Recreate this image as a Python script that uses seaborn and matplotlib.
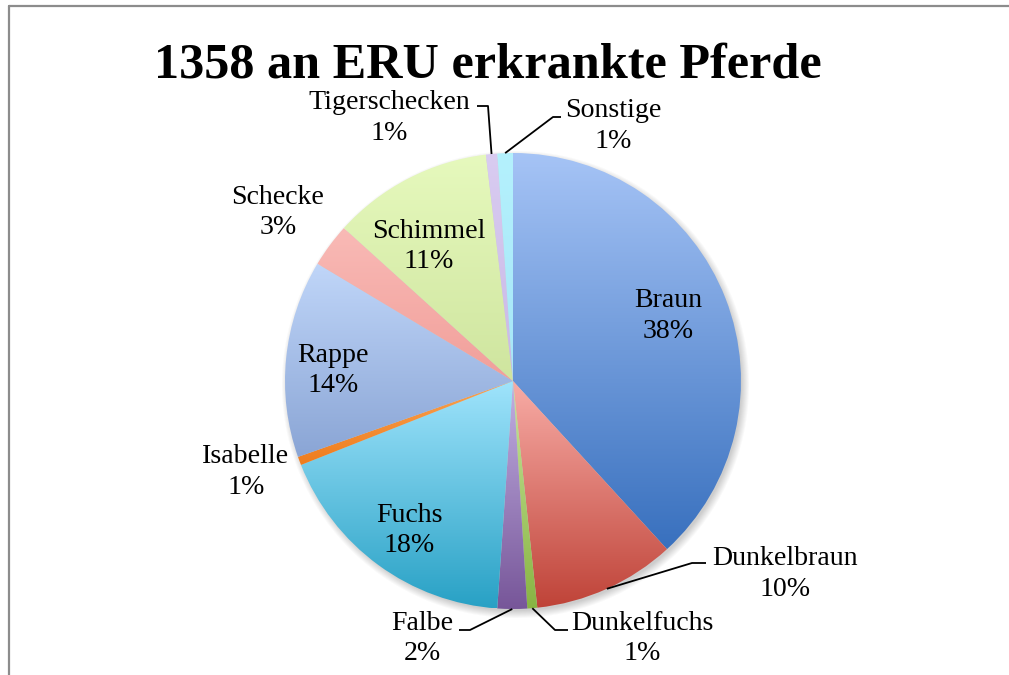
import numpy as np
import matplotlib
matplotlib.use("Agg")
import matplotlib.pyplot as plt
from matplotlib.lines import Line2D
import seaborn as sns

# ---------------- data ----------------
title = "1358 an ERU erkrankte Pferde"
categories = ["Braun", "Dunkelbraun", "Dunkelfuchs", "Falbe", "Fuchs", "Isabelle",
              "Rappe", "Schecke", "Schimmel", "Tigerschecken", "Sonstige"]
shares = [38.2, 10.1, 0.7, 2.1, 17.9, 0.6, 14.0, 3.1, 11.4, 0.8, 1.1]
pct_labels = [f"{round(v)}%" for v in shares]

top_colors = ["#a6c4f6", "#f8aca6", "#c8e59c", "#c2b0e2", "#a0e4fc", "#f9a352",
              "#c0d6f9", "#f9bab6", "#e6f9bd", "#d9ccf1", "#b4f1fd"]
bottom_colors = ["#3870be", "#bf4338", "#88b443", "#775699", "#28a1c5", "#ef7c1d",
                 "#8aa5d5", "#f19f9a", "#cfe59f", "#c9b8e6", "#a6e6f7"]

# label placement (image px: centre x, baseline y of name line)
label_pos = {
    "Braun": (668, 307), "Dunkelbraun": (785, 565), "Dunkelfuchs": (642, 630),
    "Falbe": (422, 630), "Fuchs": (409, 522), "Isabelle": (246, 463),
    "Rappe": (333, 362), "Schecke": (278, 204), "Schimmel": (429, 238),
    "Tigerschecken": (389, 109), "Sonstige": (613, 117),
}
# leader lines: label end -> elbow (image px), then to the slice edge
leaders = {
    "Tigerschecken": [(477, 106), (488, 106)],
    "Sonstige": [(561, 117), (553, 117)],
    "Dunkelbraun": [(706, 563), (692, 563)],
    "Dunkelfuchs": [(568, 630), (555, 630)],
    "Falbe": [(459, 630), (470, 630)],
}

# ---------------- style ----------------
sns.set_theme(style="white")
plt.rcParams['font.family'] = ['Liberation Serif', 'DejaVu Serif']

W, H = 1009, 675
fig = plt.figure(figsize=(W / 100, H / 100), dpi=100)
fig.patch.set_facecolor("white")
ax = fig.add_axes([0, 0, 1, 1])

cx, cy, R = 513, H - 381, 228

def img(p):
    return (p[0], H - p[1])

# soft shadow behind the pie
yy, xx = np.mgrid[0:H, 0:W]
d = np.hypot(xx - (cx + 2), (H - 1 - yy) - (cy - 4))
alpha = np.clip((R + 6 - d) / 8.0, 0, 1) * 0.35
shadow = np.zeros((H, W, 4))
shadow[..., :3] = 0.45
shadow[..., 3] = alpha
ax.imshow(shadow, extent=(0, W, 0, H), origin="upper", zorder=1, aspect="auto")

wedges, _ = ax.pie(shares, startangle=90, counterclock=False, center=(cx, cy),
                   radius=R, wedgeprops=dict(linewidth=0, facecolor="none"))

grad = np.linspace(0, 1, 256).reshape(-1, 1)
for w, c0, c1 in zip(wedges, top_colors, bottom_colors):
    bb = w.get_path().get_extents()
    cmap = sns.blend_palette([c0, c1], as_cmap=True)
    im = ax.imshow(grad, cmap=cmap, extent=(bb.x0, bb.x1, bb.y0, bb.y1),
                   origin="upper", aspect="auto", zorder=2, interpolation="bilinear")
    im.set_clip_path(w)

ax.set_xlim(0, W)
ax.set_ylim(0, H)
ax.set_aspect("auto")
ax.axis("off")

renderer = fig.canvas.get_renderer()

def fit_size(text, target_px, weight="normal", start=20):
    t = fig.text(0, 0, text, fontsize=start, fontweight=weight)
    wpx = t.get_window_extent(renderer).width
    t.remove()
    return start * target_px / wpx

lab_fs = fit_size("Dunkelbraun", 146)
title_fs = fit_size(title, 667, weight="bold", start=36)

# title
tx, ty = img((488, 78))
ax.text(tx, ty, title, fontsize=title_fs, fontweight="bold", ha="center",
        va="baseline", color="black", zorder=5)

# labels
for name, pct in zip(categories, pct_labels):
    x, y = img(label_pos[name])
    ax.text(x, y, name, fontsize=lab_fs, ha="center", va="baseline", color="black", zorder=5)
    ax.text(x, y - 30.5, pct, fontsize=lab_fs, ha="center", va="baseline", color="black", zorder=5)

# leader lines
for w, name in zip(wedges, categories):
    if name not in leaders:
        continue
    th = np.deg2rad((w.theta1 + w.theta2) / 2)
    anchor = (cx + R * np.cos(th), cy + R * np.sin(th))
    pts = [img(p) for p in leaders[name]] + [anchor]
    xs, ys = zip(*pts)
    ax.plot(xs, ys, color="black", lw=1.3, zorder=6, solid_capstyle="butt")

# chart frame (left and top edges visible)
fig.add_artist(Line2D([9 / W, 9 / W], [0, 1 - 6 / H], transform=fig.transFigure,
                      color="#8c8c8c", lw=1.6))
fig.add_artist(Line2D([9 / W, 1], [1 - 6 / H, 1 - 6 / H], transform=fig.transFigure,
                      color="#8c8c8c", lw=1.6))

fig.savefig("out.png", dpi=100, facecolor="white")
